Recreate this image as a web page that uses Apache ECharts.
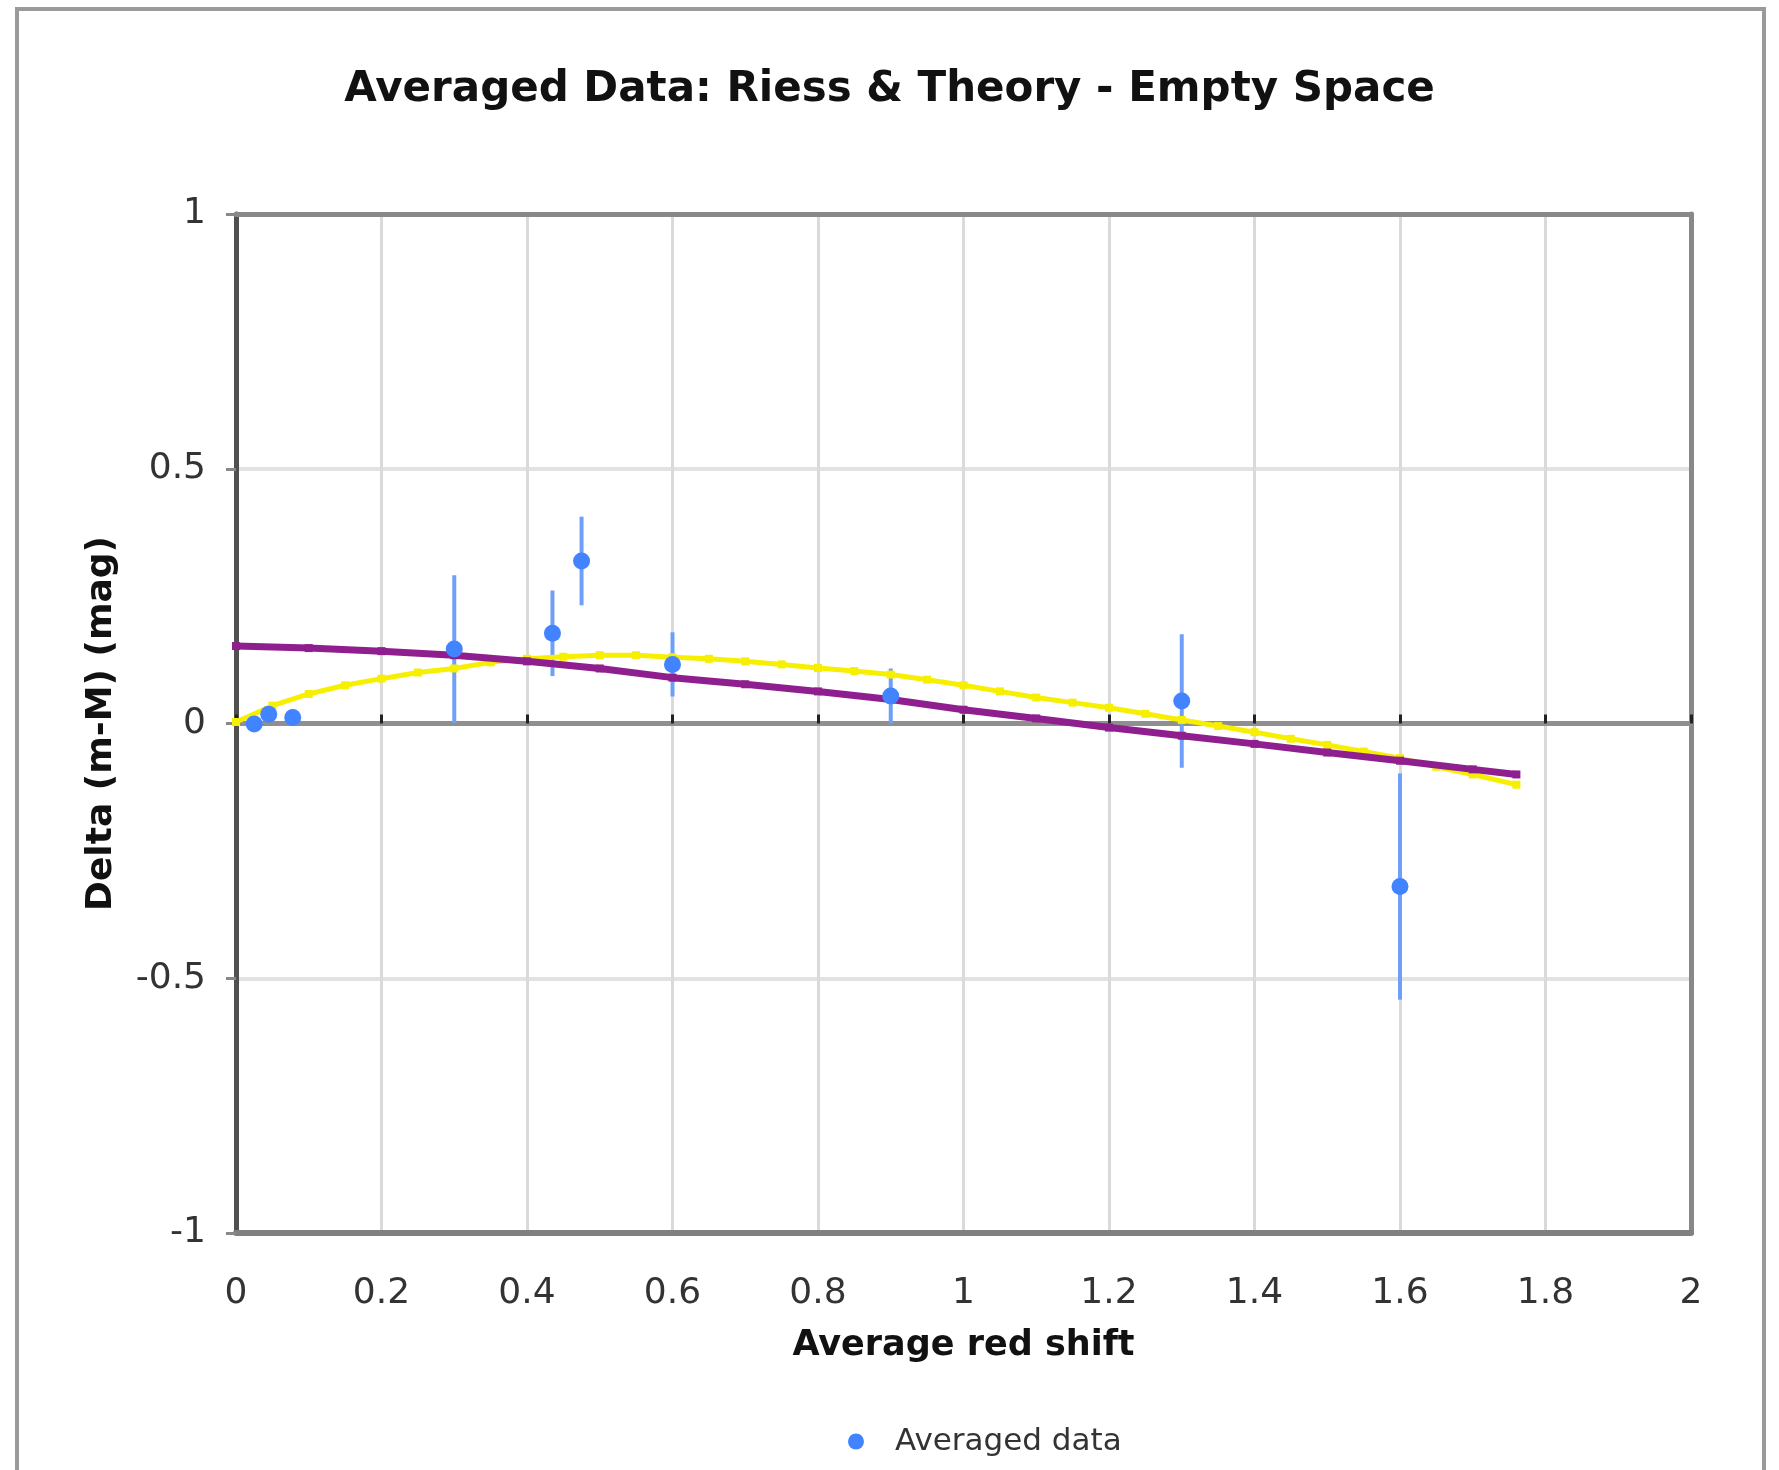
<!DOCTYPE html>
<html>
<head>
<meta charset="utf-8">
<script src="https://cdn.jsdelivr.net/npm/echarts@6/dist/echarts.min.js"></script>
<style>
  html, body { margin: 0; padding: 0; background: #fff; }
  #main { width: 1779px; height: 1470px; }
</style>
</head>
<body>
<div id="main"></div>
<script>
// averaged Riess data (red shift, delta, error)
var avgX   = [0.025, 0.045, 0.078, 0.30, 0.435, 0.475, 0.60, 0.90, 1.30, 1.60];
var avgY   = [-0.001, 0.018, 0.012, 0.146, 0.177, 0.319, 0.116, 0.054, 0.044, -0.32];
var avgErr = [0.008, 0.008, 0.008, 0.145, 0.084, 0.087, 0.063, 0.054, 0.131, 0.222];

// theory curve (purple)
var purpleX = [0, 0.1, 0.2, 0.3, 0.4, 0.5, 0.6, 0.7, 0.8, 0.9, 1.0, 1.1, 1.2, 1.3, 1.4, 1.5, 1.6, 1.7, 1.76];
var purpleY = [0.152, 0.148, 0.142, 0.134, 0.122, 0.108, 0.09, 0.077, 0.063, 0.047, 0.027, 0.01, -0.008, -0.024, -0.04, -0.057, -0.073, -0.09, -0.1];

// empty space curve (yellow)
var yellowX = [0, 0.05, 0.1, 0.15, 0.2, 0.25, 0.3, 0.35, 0.4, 0.45, 0.5, 0.55, 0.6, 0.65, 0.7, 0.75, 0.8, 0.85, 0.9, 0.95, 1.0, 1.05, 1.1, 1.15, 1.2, 1.25, 1.3, 1.35, 1.4, 1.45, 1.5, 1.55, 1.6, 1.65, 1.7, 1.76];
var yellowY = [0.003, 0.035, 0.058, 0.075, 0.088, 0.1, 0.108, 0.12, 0.127, 0.131, 0.134, 0.134, 0.13, 0.127, 0.122, 0.116, 0.109, 0.103, 0.096, 0.086, 0.075, 0.063, 0.051, 0.041, 0.031, 0.019, 0.007, -0.005, -0.017, -0.03, -0.042, -0.055, -0.068, -0.085, -0.1, -0.12];

var xTicks = [0, 0.2, 0.4, 0.6, 0.8, 1, 1.2, 1.4, 1.6, 1.8, 2];
var yTicks = [-1, -0.5, 0, 0.5, 1];

var font = 'DejaVu Sans';

function pairs(xs, ys) {
    var out = [];
    for (var i = 0; i < xs.length; i++) {
        out.push([xs[i], ys[i]]);
    }
    return out;
}

var errData = [];
for (var i = 0; i < avgX.length; i++) {
    errData.push([avgX[i], avgY[i] - avgErr[i], avgY[i] + avgErr[i]]);
}

var myChart = echarts.init(document.getElementById('main'));

var option = {
    backgroundColor: '#fff',
    animation: false,
    title: {
        text: 'Averaged Data: Riess & Theory - Empty Space',
        left: 'center',
        top: 64,
        textStyle: { fontFamily: font, fontSize: 42, fontWeight: 'bold', color: '#111' }
    },
    legend: {
        data: ['Averaged data'],
        left: 843,
        top: 1421,
        icon: 'circle',
        itemWidth: 16,
        itemHeight: 16,
        textStyle: { fontFamily: font, fontSize: 31, color: '#333', padding: [0, 0, 0, 26] }
    },
    graphic: [{
        type: 'rect',
        shape: { x: 17, y: 9, width: 1747, height: 1500 },
        style: { fill: null, stroke: '#9a9a9a', lineWidth: 4 },
        silent: true
    }],
    grid: { left: 236, right: 88, top: 214, bottom: 237 },
    xAxis: [{
        type: 'value',
        position: 'bottom',
        min: 0, max: 2, interval: 0.2,
        name: 'Average red shift',
        nameLocation: 'middle',
        nameGap: 95,
        nameTextStyle: { fontFamily: font, fontSize: 35, fontWeight: 'bold', color: '#111' },
        axisLine: { onZero: false, lineStyle: { color: '#808080', width: 6 } },
        axisTick: { show: false },
        axisLabel: {
            margin: 43, fontFamily: font, fontSize: 36, color: '#333',
            formatter: function (v) { return xTicks.indexOf(+v.toFixed(1)) >= 0 ? String(+v.toFixed(1)) : ''; }
        },
        splitLine: { show: true, showMinLine: false, showMaxLine: false, lineStyle: { color: '#dadada', width: 3 } }
    }, {
        // zero line with inner ticks
        type: 'value',
        position: 'bottom',
        min: 0, max: 2, interval: 0.2,
        axisLine: { onZero: true, onZeroAxisIndex: 0, lineStyle: { color: '#8f8f8f', width: 5 } },
        axisTick: { show: true, inside: true, length: 9, lineStyle: { color: '#222', width: 3 } },
        axisLabel: { show: false },
        splitLine: { show: false }
    }, {
        // top border
        type: 'value',
        position: 'top',
        min: 0, max: 2, interval: 0.2,
        axisLine: { onZero: false, lineStyle: { color: '#888', width: 5 } },
        axisTick: { show: false },
        axisLabel: { show: false },
        splitLine: { show: false }
    }],
    yAxis: [{
        type: 'value',
        position: 'left',
        min: -1, max: 1, interval: 0.5,
        name: 'Delta (m-M) (mag)',
        nameLocation: 'middle',
        nameGap: 116,
        nameTextStyle: { fontFamily: font, fontSize: 36, fontWeight: 'bold', color: '#111' },
        axisLine: { onZero: false, lineStyle: { color: '#505050', width: 5 } },
        axisTick: { show: true, length: 10, lineStyle: { color: '#888', width: 3 } },
        axisLabel: {
            margin: 30, fontFamily: font, fontSize: 36, color: '#333',
            formatter: function (v) { return yTicks.indexOf(v) >= 0 ? String(v) : ''; }
        },
        splitLine: { show: true, showMinLine: false, showMaxLine: false, lineStyle: { color: '#e2e2e2', width: 4 } }
    }, {
        // right border
        type: 'value',
        position: 'right',
        min: -1, max: 1, interval: 0.5,
        axisLine: { onZero: false, show: true, lineStyle: { color: '#888', width: 5 } },
        axisTick: { show: false },
        axisLabel: { show: false },
        splitLine: { show: false }
    }],
    series: [{
        name: 'error',
        type: 'custom',
        xAxisIndex: 0,
        yAxisIndex: 0,
        z: 2,
        encode: { x: 0, y: [1, 2] },
        renderItem: function (params, api) {
            var p1 = api.coord([api.value(0), api.value(1)]);
            var p2 = api.coord([api.value(0), api.value(2)]);
            return {
                type: 'line',
                shape: { x1: p1[0], y1: p1[1], x2: p2[0], y2: p2[1] },
                style: { stroke: '#6f9ff8', lineWidth: 4 }
            };
        },
        data: errData
    }, {
        name: 'Empty space',
        type: 'line',
        z: 3,
        data: pairs(yellowX, yellowY),
        symbol: 'rect',
        symbolSize: 8,
        itemStyle: { color: '#f7ef00' },
        lineStyle: { color: '#f7ef00', width: 5 }
    }, {
        name: 'Theory',
        type: 'line',
        z: 4,
        data: pairs(purpleX, purpleY),
        symbol: 'rect',
        symbolSize: 8,
        itemStyle: { color: '#8f1f8f' },
        lineStyle: { color: '#8f1f8f', width: 7 }
    }, {
        name: 'Averaged data',
        type: 'scatter',
        z: 5,
        symbol: 'circle',
        symbolSize: 17,
        itemStyle: { color: '#4283ff', opacity: 1 },
        data: pairs(avgX, avgY)
    }]
};

myChart.setOption(option);
</script>
</body>
</html>
